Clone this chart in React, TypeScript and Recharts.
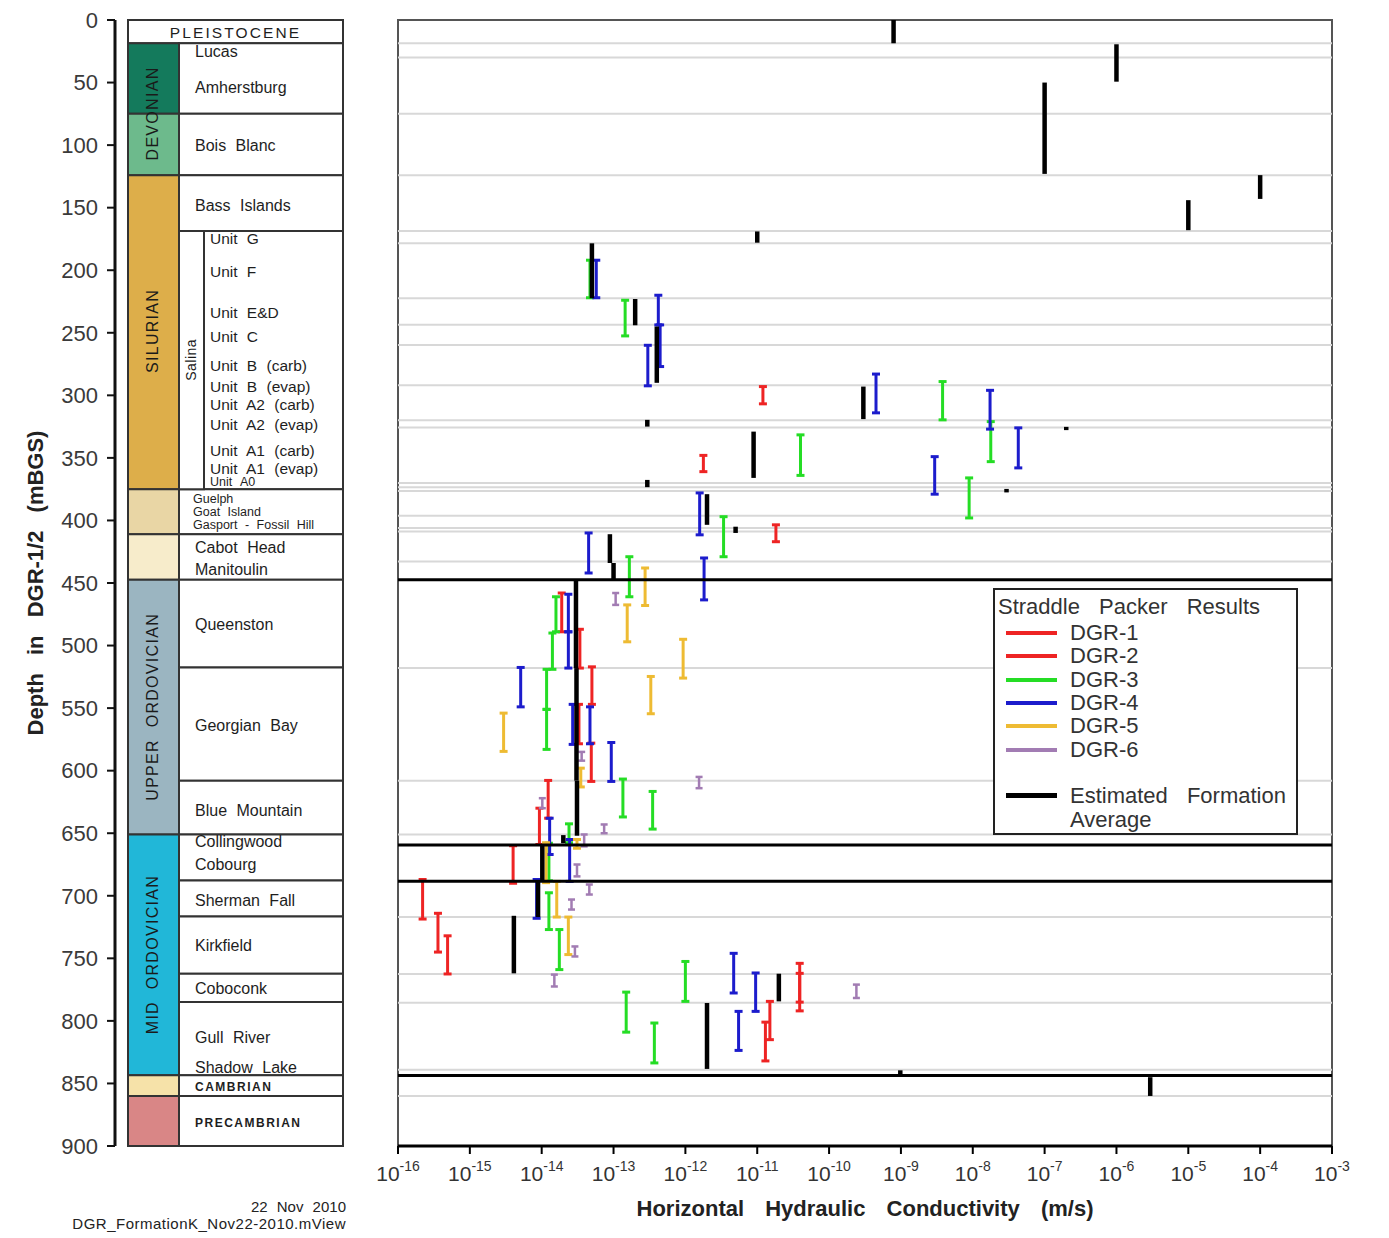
import React from 'react';
import {
  ComposedChart,
  ScatterChart,
  Scatter,
  XAxis,
  YAxis,
  ReferenceArea,
  ReferenceLine,
  ErrorBar,
  Legend,
  Label,
} from 'recharts';

// ---------------- axes ----------------
const depthTicks = [0, 50, 100, 150, 200, 250, 300, 350, 400, 450, 500, 550, 600, 650, 700, 750, 800, 850, 900];
const kTicks = [1e-16, 1e-15, 1e-14, 1e-13, 1e-12, 1e-11, 1e-10, 1e-9, 1e-8, 1e-7, 1e-6, 1e-5, 1e-4, 1e-3];
const kTickExponents = ['-16', '-15', '-14', '-13', '-12', '-11', '-10', '-9', '-8', '-7', '-6', '-5', '-4', '-3'];

// ---------------- stratigraphy (depths in mBGS) ----------------
const pleistocene = { top: 0, bottom: 18.6 };
const ageBands = [
  { key: 'devonianUpper', top: 18.6, bottom: 75 },
  { key: 'devonianLower', top: 75, bottom: 124 },
  { key: 'silurian', top: 124, bottom: 375 },
  { key: 'guelph', top: 375, bottom: 411 },
  { key: 'cabot', top: 411, bottom: 447.5 },
  { key: 'upperOrd', top: 447.5, bottom: 651 },
  { key: 'midOrd', top: 651, bottom: 843.5 },
  { key: 'cambrian', top: 843.5, bottom: 860 },
  { key: 'precambrian', top: 860, bottom: 900 },
];
const formationTops = [18.6, 75, 124, 168.6, 375, 411, 447.5, 517.5, 608, 651, 687.7, 716.5, 762.3, 785, 843.5, 860, 900];
const salina = { top: 168.6, bottom: 375 };

const pleistoceneLabel = [{ text: 'PLEISTOCENE', depth: 9.6 }];
const ageLabels = [
  { text: 'DEVONIAN', depth: 74.7 },
  { text: 'SILURIAN', depth: 248.5 },
  { text: 'UPPER ORDOVICIAN', depth: 549 },
  { text: 'MID ORDOVICIAN', depth: 747 },
];
const formationLabels = [
  { text: 'Lucas', depth: 25 },
  { text: 'Amherstburg', depth: 54.3 },
  { text: 'Bois Blanc', depth: 100 },
  { text: 'Bass Islands', depth: 148 },
  { text: 'Cabot Head', depth: 422 },
  { text: 'Manitoulin', depth: 439.5 },
  { text: 'Queenston', depth: 483.4 },
  { text: 'Georgian Bay', depth: 564 },
  { text: 'Blue Mountain', depth: 632 },
  { text: 'Collingwood', depth: 657 },
  { text: 'Cobourg', depth: 675 },
  { text: 'Sherman Fall', depth: 704 },
  { text: 'Kirkfield', depth: 740 },
  { text: 'Coboconk', depth: 774 },
  { text: 'Gull River', depth: 813 },
  { text: 'Shadow Lake', depth: 837 },
];
const niagaranLabels = [
  { text: 'Guelph', depth: 383 },
  { text: 'Goat Island', depth: 393 },
  { text: 'Gasport - Fossil Hill', depth: 403.5 },
];
const unitLabels = [
  { text: 'Unit G', depth: 175 },
  { text: 'Unit F', depth: 201 },
  { text: 'Unit E&D', depth: 234 },
  { text: 'Unit C', depth: 253 },
  { text: 'Unit B (carb)', depth: 276.5 },
  { text: 'Unit B (evap)', depth: 293 },
  { text: 'Unit A2 (carb)', depth: 307.6 },
  { text: 'Unit A2 (evap)', depth: 323.6 },
  { text: 'Unit A1 (carb)', depth: 344.4 },
  { text: 'Unit A1 (evap)', depth: 358.3 },
];
const unitA0Label = [{ text: 'Unit A0', depth: 369.3 }];
const systemLabels = [
  { text: 'CAMBRIAN', depth: 852.6 },
  { text: 'PRECAMBRIAN', depth: 881.3 },
];
const salinaLabel = [{ text: 'Salina', depth: 271.6 }];

// ---------------- horizontal formation contacts in the K plot ----------------
const contactLines = [18.6, 30, 75, 124, 168.6, 178.5, 222.4, 243.5, 259.7, 292, 320, 325.8, 370, 373.5, 376.5, 396.3, 406, 408.8, 432.8, 518, 608, 651, 717, 762.5, 785.5, 839, 860];
const majorContacts = [447.5, 659.5, 688.3, 843.7];

// ---------------- test intervals: [K (m/s), top depth, bottom depth] ----------------
const dgr1: number[][] = [
  [1.2e-11, 293, 306.8],
  [1.78e-12, 348, 361],
  [1.82e-11, 403.5, 417],
];
const dgr2: number[][] = [
  [1.9e-14, 458, 489],
  [3.4e-14, 487, 518],
  [5.0e-14, 517, 547],
  [3.3e-14, 547, 578.5],
  [4.9e-14, 578, 608.6],
  [1.23e-14, 607.8, 638],
  [9.3e-15, 630, 659],
  [4.0e-15, 660, 690],
  [2.2e-16, 687, 718.6],
  [3.6e-16, 714, 745],
  [4.9e-16, 732, 762.5],
  [3.9e-11, 754, 785],
  [3.9e-11, 762, 792],
  [1.5e-11, 784.4, 815],
  [1.3e-11, 801, 832],
];
const dgr3: number[][] = [
  [4.7e-14, 192, 222],
  [1.45e-13, 224, 252.5],
  [3.8e-9, 289, 319.6],
  [1.78e-8, 321, 353],
  [4.0e-11, 331.6, 364],
  [8.9e-9, 366, 398],
  [3.4e-12, 397, 429],
  [1.66e-13, 429, 461],
  [1.58e-14, 461, 489],
  [1.41e-14, 490, 519],
  [1.17e-14, 519, 551],
  [1.17e-14, 551, 583],
  [1.35e-13, 606.7, 637],
  [3.5e-13, 616.6, 646.7],
  [2.4e-14, 642.5, 657.6],
  [1.26e-14, 658, 688],
  [1.26e-14, 697.6, 727],
  [1.76e-14, 727, 759],
  [1.0e-12, 752.5, 784.4],
  [1.5e-13, 777, 809],
  [3.7e-13, 801.7, 833.6],
];
const dgr4: number[][] = [
  [5.75e-14, 192, 222],
  [4.2e-13, 220, 243.7],
  [4.45e-13, 243.7, 277],
  [3.0e-13, 260, 292.4],
  [4.5e-10, 283, 314],
  [1.74e-8, 296, 327],
  [4.3e-8, 326, 358],
  [2.95e-9, 349, 379],
  [1.58e-12, 378, 411.5],
  [4.5e-14, 410, 442],
  [1.82e-12, 430, 463.5],
  [2.35e-14, 459, 489],
  [2.35e-14, 489, 518],
  [5.1e-15, 517.5, 549],
  [2.7e-14, 547, 579],
  [4.7e-14, 549, 578.5],
  [9.3e-14, 577.5, 608.6],
  [1.29e-14, 638, 667],
  [2.45e-14, 655, 688.5],
  [8.5e-15, 687, 718],
  [4.7e-12, 746, 777.7],
  [9.5e-12, 761.7, 792.4],
  [5.5e-12, 792.4, 823.6],
];
const dgr5: number[][] = [
  [2.75e-13, 438, 468],
  [1.55e-13, 467.5, 497],
  [9.3e-13, 495, 526],
  [3.3e-13, 524.7, 554.5],
  [2.95e-15, 554, 584.6],
  [3.5e-14, 598, 613],
  [3.1e-14, 655, 662],
  [1.15e-14, 657.6, 689.5],
  [1.62e-14, 688.5, 717],
  [2.35e-14, 717, 747],
];
const dgr6: number[][] = [
  [1.07e-13, 458, 467.5],
  [3.6e-14, 585, 592],
  [1.55e-12, 605, 614],
  [1.02e-14, 622, 630],
  [7.4e-14, 643, 650],
  [3.9e-14, 651, 660.5],
  [3.1e-14, 675, 684.5],
  [4.6e-14, 691, 699],
  [2.6e-14, 703, 711],
  [2.9e-14, 740.5, 748.5],
  [1.5e-14, 763, 772.5],
  [2.4e-10, 771, 781.7],
];
const formationAverage: number[][] = [
  [7.9e-10, 0, 18.6],
  [1.0e-6, 19.4, 49.3],
  [1.0e-7, 50, 123],
  [1.0e-4, 124, 143],
  [1.0e-5, 144, 168],
  [1.0e-11, 169, 178],
  [5.0e-14, 178.5, 222.4],
  [2.0e-13, 223, 244],
  [4.0e-13, 245, 290],
  [3.0e-10, 293, 319],
  [2.95e-13, 319.6, 325],
  [2.0e-7, 325.2, 327.8],
  [8.9e-12, 329, 366],
  [2.95e-13, 367.6, 373.4],
  [2.95e-8, 374.8, 377.6],
  [2.0e-12, 379, 403.5],
  [5.0e-12, 405, 410],
  [8.9e-14, 411, 434],
  [1.0e-13, 434, 448],
  [3.0e-14, 447.5, 518],
  [3.05e-14, 518, 608],
  [3.1e-14, 608, 652],
  [2.0e-14, 651.5, 658],
  [1.02e-14, 660, 688.5],
  [8.9e-15, 688, 717],
  [4.1e-15, 716, 762],
  [2.0e-11, 762.3, 784.4],
  [2.0e-12, 785.7, 838.4],
  [9.8e-10, 839.5, 843],
  [2.95e-6, 845, 860],
];

const legendItems = ['DGR-1', 'DGR-2', 'DGR-3', 'DGR-4', 'DGR-5', 'DGR-6'];

// ---------------- styles ----------------
const FONT = '"Liberation Sans", Arial, Helvetica, sans-serif';
const AGE_COLORS: Record<string, string> = {
  devonianUpper: '#147a5c',
  devonianLower: '#6dba8c',
  silurian: '#ddae4a',
  guelph: '#e9d6a5',
  cabot: '#f7eccb',
  upperOrd: '#9bb5c1',
  midOrd: '#21b7d8',
  cambrian: '#f6e2a9',
  precambrian: '#d98686',
};
const SERIES_COLORS = ['#ee2424', '#ee2424', '#25dd25', '#1c1ccc', '#eebb33', '#a27cb3'];
const BOX_STROKE = '#333';

// column layout (units of the hidden x axis of the column chart = px)
const COL_AGE = [13, 64];
const COL_NAME = [64, 228];
const COL_SALINA = [64, 89];
const X_AGE_TEXT = 38;
const X_NAME_TEXT = 80;
const X_NIAGARAN_TEXT = 78;
const X_UNIT_TEXT = 95;
const X_SALINA_TEXT = 76.5;
const X_PLEIST_TEXT = 120.5;

const noShape = () => <g />;

const toPoints = (arr: number[][]) =>
  arr.map(([k, top, bottom]) => ({ k, depth: (top + bottom) / 2, err: (bottom - top) / 2 }));

const withX = (arr: { text: string; depth: number }[], x: number) => arr.map((d) => ({ ...d, x }));

// ---------------- label shapes ----------------
const nameShape = (size: number, extra: any = {}) => (p: any) => (
  <text
    x={p.cx}
    y={p.cy}
    dominantBaseline="central"
    fontSize={size}
    fill="#1e1e1e"
    fontFamily={FONT}
    style={{ wordSpacing: 5 }}
    {...extra}
  >
    {p.payload.text}
  </text>
);

const rotatedShape = (size: number, spacing: number) => (p: any) => (
  <text
    x={p.cx}
    y={p.cy}
    transform={`rotate(-90 ${p.cx} ${p.cy})`}
    textAnchor="middle"
    dominantBaseline="central"
    fontSize={size}
    fill="#1a1a1a"
    fontFamily={FONT}
    style={{ letterSpacing: spacing, wordSpacing: 6 }}
  >
    {p.payload.text}
  </text>
);

const YTitle = (props: any) => {
  const vb = props.viewBox || { x: 0, y: 20, width: 115, height: 1126 };
  const cx = vb.x + 35;
  const cy = vb.y + vb.height / 2;
  return (
    <text
      x={cx}
      y={cy}
      transform={`rotate(-90 ${cx} ${cy})`}
      textAnchor="middle"
      dominantBaseline="central"
      fontSize={22}
      fontWeight="bold"
      fill="#222"
      fontFamily={FONT}
      style={{ wordSpacing: 12 }}
    >
      Depth in DGR-1/2 (mBGS)
    </text>
  );
};

const XTitle = (props: any) => {
  const vb = props.viewBox || { x: 53, y: 1146, width: 934, height: 60 };
  return (
    <text
      x={vb.x + vb.width / 2}
      y={vb.y + 70}
      textAnchor="middle"
      fontSize={22}
      fontWeight="bold"
      fill="#222"
      fontFamily={FONT}
      style={{ wordSpacing: 15 }}
    >
      Horizontal Hydraulic Conductivity (m/s)
    </text>
  );
};

const XTick = (props: any) => {
  const { x, y, payload, index } = props;
  const exp = kTickExponents[index] ?? String(Math.round(Math.log10(payload.value)));
  return (
    <text x={x} y={y + 25} textAnchor="middle" fill="#333" fontSize={21} fontFamily={FONT}>
      <tspan>10</tspan>
      <tspan fontSize={14} dy={-10}>
        {exp}
      </tspan>
    </text>
  );
};

const LegendBox = () => (
  <div
    style={{
      width: 305,
      height: 247,
      boxSizing: 'border-box',
      border: '2px solid #222',
      background: '#fff',
      position: 'relative',
      fontFamily: FONT,
      color: '#333',
      fontSize: 22,
      wordSpacing: 13,
      lineHeight: 1,
    }}
  >
    <div style={{ position: 'absolute', left: 3, top: 6, whiteSpace: 'nowrap' }}>Straddle Packer Results</div>
    {legendItems.map((name, i) => (
      <div key={name} style={{ position: 'absolute', left: 0, top: 43 + i * 23.3 - 11, height: 22, width: 300 }}>
        <div
          style={{
            position: 'absolute',
            left: 11,
            top: 9,
            width: 51,
            height: 4,
            background: SERIES_COLORS[i],
          }}
        />
        <div style={{ position: 'absolute', left: 75, top: 0, whiteSpace: 'nowrap' }}>{name}</div>
      </div>
    ))}
    <div style={{ position: 'absolute', left: 11, top: 203, width: 51, height: 5, background: '#000' }} />
    <div style={{ position: 'absolute', left: 75, top: 194, whiteSpace: 'nowrap', lineHeight: '24px' }}>
      Estimated Formation
      <br />
      Average
    </div>
  </div>
);

function StratColumn() {
  return (
    <ComposedChart width={345} height={1238} margin={{ top: 20, right: 2, bottom: 92, left: 0 }}>
      <XAxis type="number" dataKey="x" domain={[0, 228]} hide allowDataOverflow />
      <YAxis
        type="number"
        dataKey="depth"
        domain={[0, 900]}
        reversed
        allowDataOverflow
        ticks={depthTicks}
        interval={0}
        width={115}
        tickSize={8}
        tickMargin={9}
        axisLine={{ stroke: '#111', strokeWidth: 3 }}
        tickLine={{ stroke: '#111', strokeWidth: 2 }}
        tick={{ fontSize: 22, fill: '#3a3a3a', fontFamily: FONT }}
      >
        <Label content={YTitle} />
      </YAxis>

      <ReferenceArea
        x1={COL_AGE[0]}
        x2={COL_NAME[1]}
        y1={pleistocene.top}
        y2={pleistocene.bottom}
        fill="#fff"
        fillOpacity={1}
        stroke={BOX_STROKE}
        strokeWidth={2}
      />
      {ageBands.map((b) => (
        <ReferenceArea
          key={b.key}
          x1={COL_AGE[0]}
          x2={COL_AGE[1]}
          y1={b.top}
          y2={b.bottom}
          fill={AGE_COLORS[b.key]}
          fillOpacity={1}
          stroke={BOX_STROKE}
          strokeWidth={2}
        />
      ))}
      {formationTops.slice(0, -1).map((top, i) => (
        <ReferenceArea
          key={'f' + i}
          x1={COL_NAME[0]}
          x2={COL_NAME[1]}
          y1={top}
          y2={formationTops[i + 1]}
          fill="#fff"
          fillOpacity={1}
          stroke={BOX_STROKE}
          strokeWidth={2}
        />
      ))}
      <ReferenceArea
        x1={COL_SALINA[0]}
        x2={COL_SALINA[1]}
        y1={salina.top}
        y2={salina.bottom}
        fill="#fff"
        fillOpacity={1}
        stroke={BOX_STROKE}
        strokeWidth={2}
      />

      <Scatter
        data={withX(pleistoceneLabel, X_PLEIST_TEXT)}
        isAnimationActive={false}
        shape={nameShape(15.5, { textAnchor: 'middle', style: { letterSpacing: 2.1 } })}
      />
      <Scatter data={withX(ageLabels, X_AGE_TEXT)} isAnimationActive={false} shape={rotatedShape(16, 1.3)} />
      <Scatter data={withX(formationLabels, X_NAME_TEXT)} isAnimationActive={false} shape={nameShape(16)} />
      <Scatter data={withX(niagaranLabels, X_NIAGARAN_TEXT)} isAnimationActive={false} shape={nameShape(12.5, { style: { wordSpacing: 4 } })} />
      <Scatter data={withX(unitLabels, X_UNIT_TEXT)} isAnimationActive={false} shape={nameShape(15.5)} />
      <Scatter data={withX(unitA0Label, X_UNIT_TEXT)} isAnimationActive={false} shape={nameShape(12.5)} />
      <Scatter
        data={withX(systemLabels, X_NAME_TEXT)}
        isAnimationActive={false}
        shape={nameShape(12, { fontWeight: 'bold', style: { letterSpacing: 1.5 } })}
      />
      <Scatter data={withX(salinaLabel, X_SALINA_TEXT)} isAnimationActive={false} shape={rotatedShape(14, 0.5)} />
    </ComposedChart>
  );
}

function KChart() {
  const series = [dgr1, dgr2, dgr3, dgr4, dgr5, dgr6];
  return (
    <ScatterChart width={1044} height={1238} margin={{ top: 20, right: 57, bottom: 32, left: 53 }}>
      <XAxis
        type="number"
        dataKey="k"
        scale="log"
        domain={[1e-16, 1e-3]}
        allowDataOverflow
        ticks={kTicks}
        interval={0}
        height={60}
        tickSize={8}
        tickMargin={2}
        axisLine={{ stroke: '#000', strokeWidth: 3 }}
        tickLine={{ stroke: '#000', strokeWidth: 2 }}
        tick={<XTick />}
      >
        <Label content={XTitle} />
      </XAxis>
      <YAxis type="number" dataKey="depth" domain={[0, 900]} reversed hide allowDataOverflow />

      <ReferenceArea x1={1e-16} x2={1e-3} y1={0} y2={900} fill="none" stroke="#555" strokeWidth={2} />
      {contactLines.map((d) => (
        <ReferenceLine key={'c' + d} y={d} stroke="#d8d8d8" strokeWidth={2} />
      ))}

      {series.map((s, i) => (
        <Scatter key={'s' + i} data={toPoints(s)} shape={noShape} isAnimationActive={false}>
          <ErrorBar
            dataKey="err"
            direction="y"
            width={i === 5 ? 3.5 : 4}
            strokeWidth={i === 5 ? 2.5 : 3}
            stroke={SERIES_COLORS[i]}
            isAnimationActive={false}
          />
        </Scatter>
      ))}
      <Scatter data={toPoints(formationAverage)} shape={noShape} isAnimationActive={false}>
        <ErrorBar dataKey="err" direction="y" width={0} strokeWidth={4.5} stroke="#000" isAnimationActive={false} />
      </Scatter>

      {majorContacts.map((d) => (
        <ReferenceLine key={'m' + d} y={d} stroke="#000" strokeWidth={3} />
      ))}

      <Legend
        layout="vertical"
        align="center"
        verticalAlign="middle"
        content={LegendBox}
        wrapperStyle={{ left: 648, top: 588, width: 305, height: 247 }}
      />
    </ScatterChart>
  );
}

export default function App() {
  return (
    <div
      style={{
        position: 'absolute',
        left: 0,
        top: 0,
        width: 1389,
        height: 1238,
        background: '#fff',
        fontFamily: FONT,
        overflow: 'hidden',
      }}
    >
      <div style={{ position: 'absolute', left: 0, top: 0 }}>
        <StratColumn />
      </div>
      <div style={{ position: 'absolute', left: 345, top: 0 }}>
        <KChart />
      </div>
      <div
        style={{
          position: 'absolute',
          right: 1389 - 346,
          top: 1198,
          fontSize: 15,
          color: '#222',
          textAlign: 'right',
          whiteSpace: 'nowrap',
          lineHeight: '17px',
          wordSpacing: 5,
        }}
      >
        22 Nov 2010
        <br />
        <span style={{ letterSpacing: 0.5 }}>DGR_FormationK_Nov22-2010.mView</span>
      </div>
    </div>
  );
}
